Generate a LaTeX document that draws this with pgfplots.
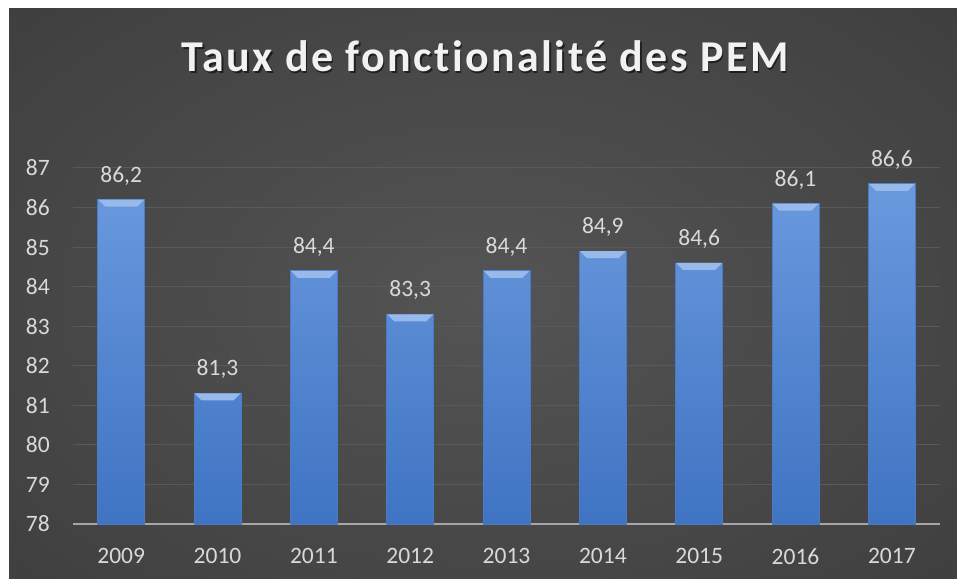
\documentclass[border=0pt]{standalone}
\usepackage{fontspec}
\setmainfont[Ligatures=NoCommon]{Carlito}
\newfontfamily\titlefont[LetterSpace=5.5, Ligatures=NoCommon]{Carlito}
\usepackage{pgfplots}
\pgfplotsset{compat=1.18}

\definecolor{bgin}{HTML}{545454}
\definecolor{bgmid}{HTML}{363636}
\definecolor{bgout}{HTML}{272727}
\definecolor{titlec}{HTML}{F2F2F2}
\definecolor{tickc}{HTML}{D9D9D9}
\definecolor{gridc}{HTML}{595959}
\definecolor{basec}{HTML}{A6A6A6}
\definecolor{bartop}{HTML}{6A99DE}
\definecolor{barbot}{HTML}{3F74C3}
\definecolor{baredge}{HTML}{4A7BC4}
\definecolor{bevel}{HTML}{98BAEB}

\pgfdeclareradialshading{bgshade}{\pgfpoint{0bp}{0bp}}{color(0bp)=(bgin); color(50bp)=(bgmid); color(72bp)=(bgout)}

% light bevel face hanging below the top of each bar
\pgfdeclareplotmark{bevel}{%
  \pgfpathmoveto{\pgfpoint{-23pt}{0pt}}%
  \pgfpathlineto{\pgfpoint{23pt}{0pt}}%
  \pgfpathlineto{\pgfpoint{16pt}{-7pt}}%
  \pgfpathlineto{\pgfpoint{-16pt}{-7pt}}%
  \pgfpathclose
  \pgfusepathqfill}

% taux de fonctionnalite (%) par annee
\pgfplotstableread{
x year val
0 2009 86.2
1 2010 81.3
2 2011 84.4
3 2012 83.3
4 2013 84.4
5 2014 84.9
6 2015 84.6
7 2016 86.1
8 2017 86.6
}\pemdata

\begin{document}
\begin{tikzpicture}
\fill[white] (0pt,0pt) rectangle (957pt,578pt);
\begin{scope}
  \clip (9pt,0pt) rectangle (957pt,569pt);
  \shade[shading=bgshade] (9pt,-20pt) rectangle (957pt,580pt);
\end{scope}
\node[anchor=base, text=black, opacity=0.55] at (486.5pt,504.5pt)
  {\titlefont\bfseries\fontsize{44}{50}\selectfont Taux de fonctionalité des PEM};
\node[anchor=base, text=titlec] at (485pt,506pt)
  {\titlefont\bfseries\fontsize{44}{50}\selectfont Taux de fonctionalité des PEM};

\begin{axis}[
    at={(73pt,54pt)}, anchor=south west,
    scale only axis, width=867pt, height=356pt,
    xmin=-0.5, xmax=8.5, ymin=78, ymax=87,
    ytick={78,...,87},
    xtick=data, xticklabels={2009,2010,2011,2012,2013,2014,2015,2016,2017},
    axis x line*=bottom, axis y line*=left,
    x axis line style={draw=basec, line width=2pt, -},
    y axis line style={draw=none},
    major tick length=0pt,
    ymajorgrids, grid style={gridc, line width=1pt},
    /pgf/number format/assume math mode=true,
    tick label style={font=\fontsize{23.5}{27}\selectfont, text=tickc},
    yticklabel style={anchor=east, inner sep=0pt, xshift=-23pt},
    xticklabel style={anchor=north, inner sep=0pt, yshift=-24pt},
    clip=false,
]
\addplot[ybar, bar width=47pt, top color=bartop, bottom color=barbot,
    draw=baredge, line width=0.8pt,
    nodes near coords={\pgfmathprintnumber[fixed, fixed zerofill, precision=1, use comma, assume math mode=true]{\pgfplotspointmeta}},
    nodes near coords style={font=\fontsize{23.5}{27}\selectfont, text=tickc, anchor=base, inner sep=0pt, yshift=17.5pt},
  ] table[x=x, y=val] {\pemdata};
\addplot[only marks, mark=bevel, mark options={fill=bevel, draw=none}, forget plot]
  table[x=x, y=val] {\pemdata};
\end{axis}
\end{tikzpicture}
\end{document}
